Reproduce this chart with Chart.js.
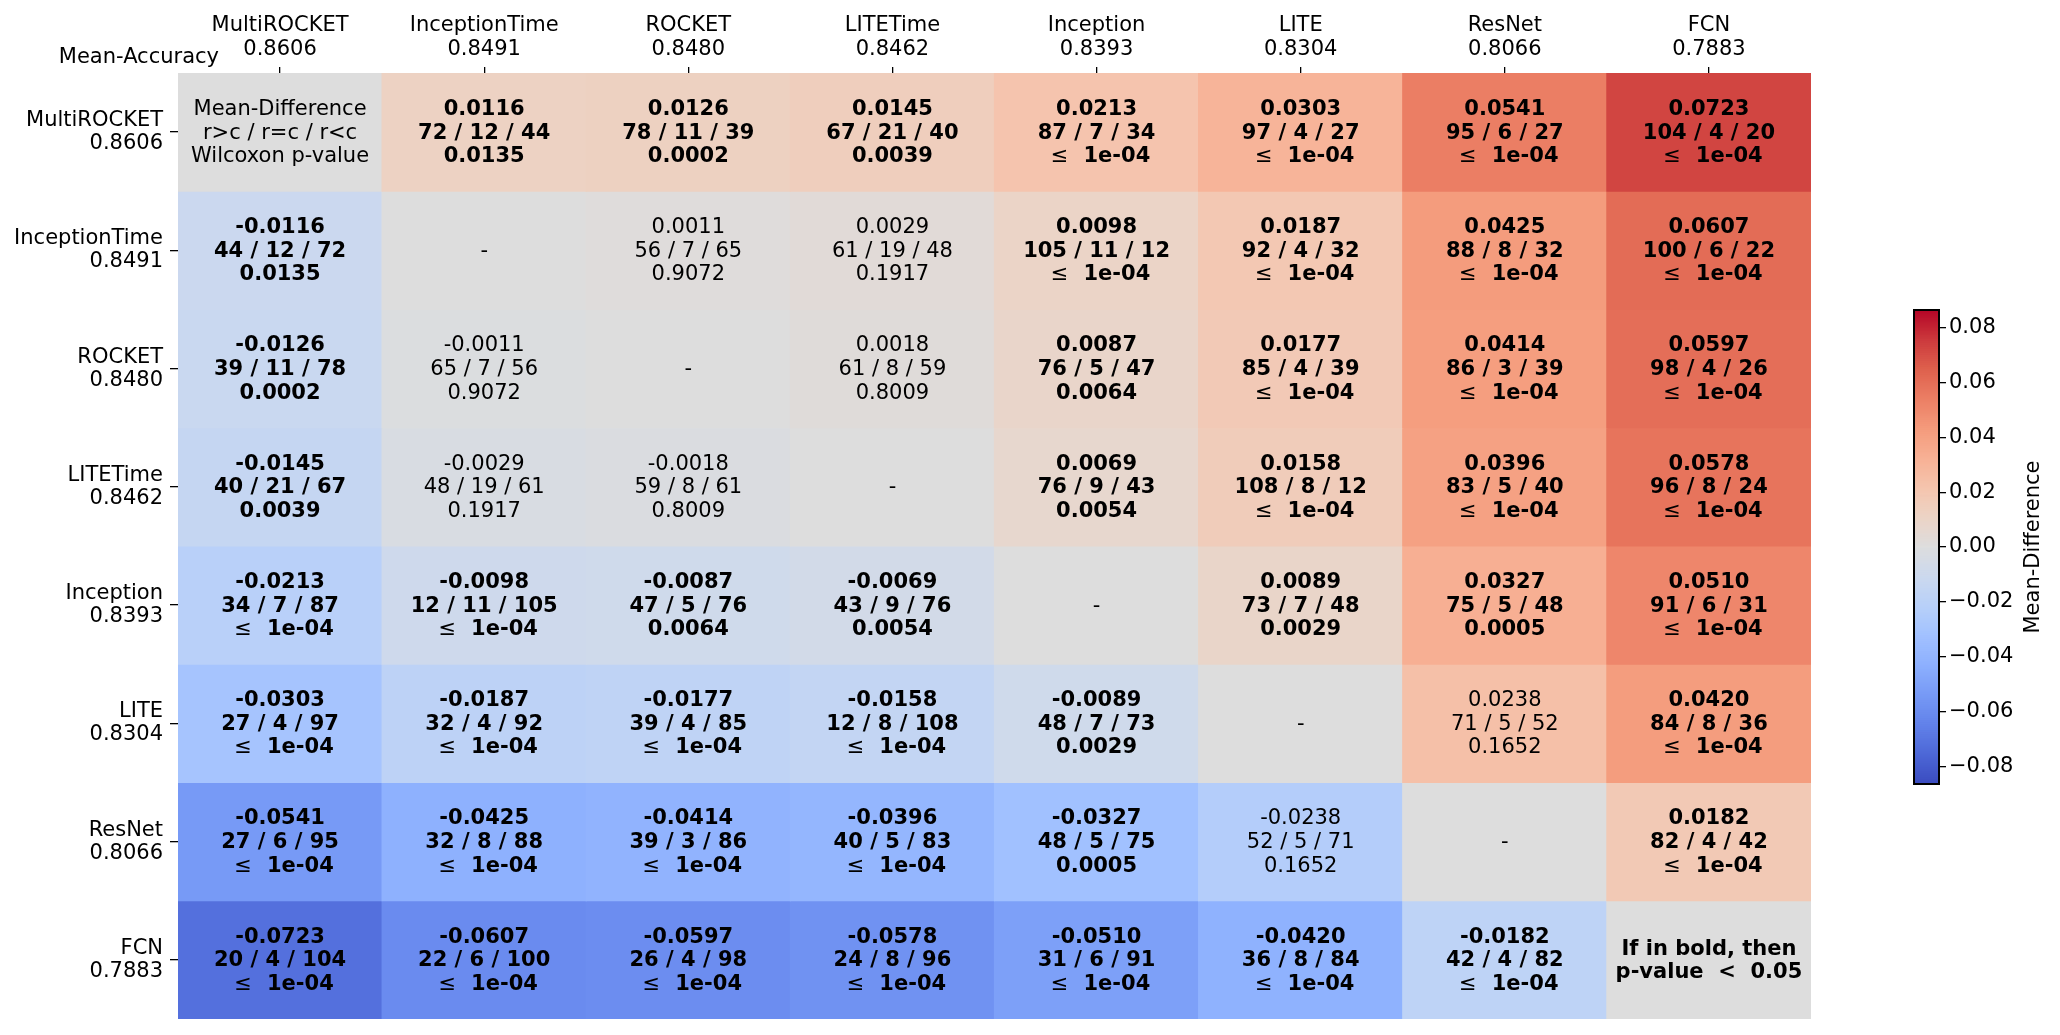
<!DOCTYPE html>
<html lang="en">
<head>
<meta charset="UTF-8">
<title>Pairwise comparison</title>
<script src="https://cdn.jsdelivr.net/npm/chart.js"></script>
<style>
  body { margin: 0; background: #fff; }
  #main { position: absolute; left: 0; top: 0; }
  #cbar { position: absolute; left: 1867px; top: 300px; }
</style>
</head>
<body>
<canvas id="main" width="1900" height="1035"></canvas>
<canvas id="cbar" width="187" height="495"></canvas>
<script>
// models, ordered by mean accuracy
const models = ['MultiROCKET', 'InceptionTime', 'ROCKET', 'LITETime', 'Inception', 'LITE', 'ResNet', 'FCN'];
const meanAccuracy = ['0.8606', '0.8491', '0.8480', '0.8462', '0.8393', '0.8304', '0.8066', '0.7883'];

// mean difference row - column
const meanDiff = [
    [0, 0.0116, 0.0126, 0.0145, 0.0213, 0.0303, 0.0541, 0.0723],
    [-0.0116, 0, 0.0011, 0.0029, 0.0098, 0.0187, 0.0425, 0.0607],
    [-0.0126, -0.0011, 0, 0.0018, 0.0087, 0.0177, 0.0414, 0.0597],
    [-0.0145, -0.0029, -0.0018, 0, 0.0069, 0.0158, 0.0396, 0.0578],
    [-0.0213, -0.0098, -0.0087, -0.0069, 0, 0.0089, 0.0327, 0.0510],
    [-0.0303, -0.0187, -0.0177, -0.0158, -0.0089, 0, 0.0238, 0.0420],
    [-0.0541, -0.0425, -0.0414, -0.0396, -0.0327, -0.0238, 0, 0.0182],
    [-0.0723, -0.0607, -0.0597, -0.0578, -0.0510, -0.0420, -0.0182, 0]
];

// wins / ties / losses
const winTieLoss = [
    ['', '72 / 12 / 44', '78 / 11 / 39', '67 / 21 / 40', '87 / 7 / 34', '97 / 4 / 27', '95 / 6 / 27', '104 / 4 / 20'],
    ['44 / 12 / 72', '', '56 / 7 / 65', '61 / 19 / 48', '105 / 11 / 12', '92 / 4 / 32', '88 / 8 / 32', '100 / 6 / 22'],
    ['39 / 11 / 78', '65 / 7 / 56', '', '61 / 8 / 59', '76 / 5 / 47', '85 / 4 / 39', '86 / 3 / 39', '98 / 4 / 26'],
    ['40 / 21 / 67', '48 / 19 / 61', '59 / 8 / 61', '', '76 / 9 / 43', '108 / 8 / 12', '83 / 5 / 40', '96 / 8 / 24'],
    ['34 / 7 / 87', '12 / 11 / 105', '47 / 5 / 76', '43 / 9 / 76', '', '73 / 7 / 48', '75 / 5 / 48', '91 / 6 / 31'],
    ['27 / 4 / 97', '32 / 4 / 92', '39 / 4 / 85', '12 / 8 / 108', '48 / 7 / 73', '', '71 / 5 / 52', '84 / 8 / 36'],
    ['27 / 6 / 95', '32 / 8 / 88', '39 / 3 / 86', '40 / 5 / 83', '48 / 5 / 75', '52 / 5 / 71', '', '82 / 4 / 42'],
    ['20 / 4 / 104', '22 / 6 / 100', '26 / 4 / 98', '24 / 8 / 96', '31 / 6 / 91', '36 / 8 / 84', '42 / 4 / 82', '']
];

// Wilcoxon p-values ('<=' means <= 1e-04)
const pValues = [
    ['', '0.0135', '0.0002', '0.0039', '<=', '<=', '<=', '<='],
    ['0.0135', '', '0.9072', '0.1917', '<=', '<=', '<=', '<='],
    ['0.0002', '0.9072', '', '0.8009', '0.0064', '<=', '<=', '<='],
    ['0.0039', '0.1917', '0.8009', '', '0.0054', '<=', '<=', '<='],
    ['<=', '<=', '0.0064', '0.0054', '', '0.0029', '0.0005', '<='],
    ['<=', '<=', '<=', '<=', '0.0029', '', '0.1652', '<='],
    ['<=', '<=', '<=', '<=', '0.0005', '0.1652', '', '<='],
    ['<=', '<=', '<=', '<=', '<=', '<=', '<=', '']
];

const cbarTicks = [-0.08, -0.06, -0.04, -0.02, 0, 0.02, 0.04, 0.06, 0.08];
const vmax = 0.0865;

const FONT = 'DejaVu Sans';
const FS = 21;

// coolwarm anchors
const cw = [
    [59, 76, 192], [77, 104, 215], [98, 130, 234], [119, 154, 246], [141, 176, 254],
    [162, 193, 255], [184, 208, 249], [204, 217, 238], [221, 221, 221], [236, 211, 197],
    [245, 196, 173], [247, 176, 148], [244, 154, 123], [235, 126, 100], [222, 96, 77],
    [203, 56, 60], [180, 4, 38]
];
function coolwarm(v) {
    let t = (v + vmax) / (2 * vmax);
    t = Math.max(0, Math.min(1, t));
    const p = t * (cw.length - 1);
    const i = Math.min(cw.length - 2, Math.floor(p));
    const f = p - i;
    const c = cw[i].map((a, k) => Math.round(a + (cw[i + 1][k] - a) * f));
    return `rgb(${c[0]}, ${c[1]}, ${c[2]})`;
}

function cellLines(r, c) {
    if (r === c) {
        if (r === 0) return { bold: false, lines: ['Mean-Difference', 'r>c / r=c / r<c', 'Wilcoxon p-value'] };
        if (r === models.length - 1) return { bold: true, lines: ['If in bold, then', 'p-value  <  0.05'] };
        return { bold: false, lines: ['-'] };
    }
    const p = pValues[r][c];
    const bold = p === '<=' || parseFloat(p) < 0.05;
    return {
        bold: bold,
        lines: [meanDiff[r][c].toFixed(4), winTieLoss[r][c], p === '<=' ? 'LE' : p]
    };
}

const cellText = {
    id: 'cellText',
    afterDatasetsDraw(chart) {
        const ctx = chart.ctx;
        const normal = FS + 'px "' + FONT + '"';
        const bold = 'bold ' + normal;
        ctx.save();
        ctx.fillStyle = '#000';
        ctx.textBaseline = 'middle';
        for (let r = 0; r < models.length; r++) {
            const meta = chart.getDatasetMeta(r);
            meta.data.forEach((el, c) => {
                const cell = cellLines(r, c);
                const cy = (el.y + el.base) / 2 + 1;
                const lh = 23.6;
                const y0 = cy - (cell.lines.length - 1) * lh / 2;
                cell.lines.forEach((t, k) => {
                    const y = y0 + k * lh;
                    if (t === 'LE') {
                        // "≤ 1e-04": symbol in regular weight, number in bold
                        ctx.textAlign = 'left';
                        ctx.font = normal;
                        const w1 = ctx.measureText('\u2264').width;
                        ctx.font = bold;
                        const w2 = ctx.measureText('1e-04').width;
                        const gap = 15;
                        const x0 = el.x - (w1 + gap + w2) / 2 + 4;
                        ctx.font = normal;
                        ctx.fillText('\u2264', x0, y);
                        ctx.font = bold;
                        ctx.fillText('1e-04', x0 + w1 + gap, y);
                    } else {
                        ctx.textAlign = 'center';
                        ctx.font = cell.bold ? bold : normal;
                        ctx.fillText(t, el.x, y);
                    }
                });
            });
        }
        ctx.font = normal;
        ctx.textAlign = 'right';
        ctx.fillText('Mean-Accuracy', 219, 58);
        ctx.restore();
    }
};

const datasets = models.map((m, r) => ({
    label: m,
    data: models.map(() => [r, r + 1]),
    backgroundColor: models.map((_, c) => coolwarm(meanDiff[r][c])),
    borderWidth: 0,
    inflateAmount: 0.6
}));

new Chart(document.getElementById('main'), {
    type: 'bar',
    data: {
        labels: models.map((m, i) => [m, meanAccuracy[i]]),
        datasets: datasets
    },
    options: {
        responsive: false,
        animation: false,
        devicePixelRatio: 1,
        layout: { padding: { left: 0, right: 89, top: 0, bottom: 16 } },
        plugins: { legend: { display: false }, tooltip: { enabled: false } },
        datasets: { bar: { grouped: false, barPercentage: 1, categoryPercentage: 1 } },
        scales: {
            x: {
                position: 'top',
                offset: true,
                afterFit: s => { s.height = 73; s.paddingLeft = 0; s.paddingRight = 0; },
                border: { display: false },
                grid: { offset: false, drawOnChartArea: false, tickLength: 6, color: '#000', lineWidth: 1.3 },
                ticks: {
                    color: '#000',
                    padding: 6,
                    maxRotation: 0,
                    font: { family: FONT, size: FS, lineHeight: 1.12 }
                }
            },
            y: {
                type: 'linear',
                reverse: true,
                min: 0,
                max: models.length,
                afterFit: s => { s.width = 178; s.paddingTop = 0; s.paddingBottom = 0; },
                afterBuildTicks: s => { s.ticks = models.map((_, i) => ({ value: i + 0.5 })); },
                border: { display: false },
                grid: { drawOnChartArea: false, tickLength: 8, color: '#000', lineWidth: 1.3 },
                ticks: {
                    color: '#000',
                    padding: 7,
                    font: { family: FONT, size: FS, lineHeight: 1.1 },
                    callback: (v, i) => [models[i], meanAccuracy[i]]
                }
            }
        }
    },
    plugins: [cellText]
});

// colorbar
const nSteps = 240;
const cbarData = [];
for (let i = 0; i < nSteps; i++) {
    const lo = -vmax + 2 * vmax * i / nSteps;
    const hi = -vmax + 2 * vmax * (i + 1) / nSteps;
    cbarData.push({
        data: [[lo, hi]],
        backgroundColor: coolwarm((lo + hi) / 2),
        borderWidth: 0,
        inflateAmount: 0.6
    });
}

const cbarFrame = {
    id: 'cbarFrame',
    afterDraw(chart) {
        const a = chart.chartArea;
        const ctx = chart.ctx;
        ctx.save();
        ctx.strokeStyle = '#000';
        ctx.lineWidth = 2;
        ctx.strokeRect(a.left, a.top, a.right - a.left, a.bottom - a.top);
        ctx.translate(167, (a.top + a.bottom) / 2);
        ctx.rotate(-Math.PI / 2);
        ctx.fillStyle = '#000';
        ctx.font = FS + 'px "' + FONT + '"';
        ctx.textAlign = 'center';
        ctx.textBaseline = 'middle';
        ctx.fillText('Mean-Difference', 0, 0);
        ctx.restore();
    }
};

new Chart(document.getElementById('cbar'), {
    type: 'bar',
    data: { labels: [''], datasets: cbarData },
    options: {
        responsive: false,
        animation: false,
        devicePixelRatio: 1,
        layout: { padding: { left: 47, right: 0, top: 10, bottom: 11 } },
        plugins: { legend: { display: false }, tooltip: { enabled: false } },
        datasets: { bar: { grouped: false, barPercentage: 1, categoryPercentage: 1 } },
        scales: {
            x: { display: false },
            y: {
                position: 'right',
                min: -vmax,
                max: vmax,
                afterFit: s => { s.width = 115; s.paddingTop = 0; s.paddingBottom = 0; },
                afterBuildTicks: s => { s.ticks = cbarTicks.map(v => ({ value: v })); },
                border: { display: false },
                grid: { drawOnChartArea: false, tickLength: 7, color: '#000', lineWidth: 1.3 },
                ticks: {
                    color: '#000',
                    padding: 3,
                    font: { family: FONT, size: FS },
                    callback: v => (v < -1e-9 ? '\u2212' : '') + Math.abs(v).toFixed(2)
                }
            }
        }
    },
    plugins: [cbarFrame]
});
</script>
</body>
</html>
